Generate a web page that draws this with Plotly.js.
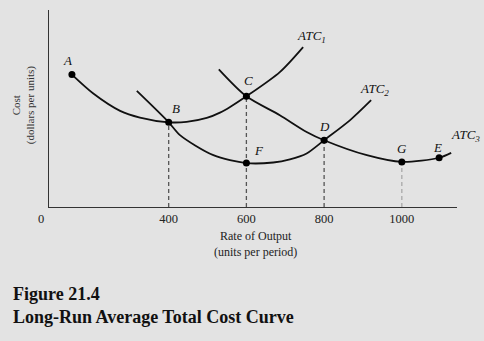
<!DOCTYPE html>
<html>
<head>
<meta charset="utf-8">
<script src="https://cdn.plot.ly/plotly-3.0.1.min.js"></script>
<style>
  html, body { margin: 0; padding: 0; background: #e3e3e3; }
  #chart { width: 484px; height: 341px; }
</style>
</head>
<body>
<div id="chart"></div>
<script>
// Schematic data (cost in arbitrary units, output in units per period)
const atc1X = [151, 206, 275, 326, 400, 446, 498, 532, 558, 600, 686, 746];
const atc1Y = [67.2, 57.6, 48.8, 45.4, 43.0, 43.2, 45.2, 47.9, 50.8, 56.2, 68.5, 81.2];

const atc2X = [318, 400, 429, 515, 600, 669, 712, 755, 800, 867, 921];
const atc2Y = [58.9, 43.0, 36.5, 26.3, 22.3, 22.6, 24.2, 27.2, 33.9, 44.1, 54.2];

const atc3X = [529, 600, 686, 755, 800, 910, 1000, 1096, 1127];
const atc3Y = [69.9, 56.2, 46.6, 38.1, 33.9, 26.3, 22.9, 25.0, 27.5];

const pointNames = ['A', 'B', 'C', 'D', 'F', 'G', 'E'];
const pointX = [151, 400, 600, 800, 600, 1000, 1096];
const pointY = [67.2, 43.0, 56.2, 33.9, 22.3, 22.9, 25.0];

const dashedNames = ['B', 'C', 'D', 'G'];
const tickValues = [400, 600, 800, 1000];
const tickLabels = ['400', '600', '800', '1000'];
const curveNames = ['ATC<sub>1</sub>', 'ATC<sub>2</sub>', 'ATC<sub>3</sub>'];

const serif = 'Liberation Serif, Times New Roman, serif';
const lineStyle = {color: '#111', width: 1.8, shape: 'spline', smoothing: 0.8};

const traces = [
  {x: atc1X, y: atc1Y, mode: 'lines', line: lineStyle, hoverinfo: 'skip'},
  {x: atc2X, y: atc2Y, mode: 'lines', line: lineStyle, hoverinfo: 'skip'},
  {x: atc3X, y: atc3Y, mode: 'lines', line: lineStyle, hoverinfo: 'skip'},
  {x: pointX, y: pointY, mode: 'markers', marker: {color: '#000', size: 7}, hoverinfo: 'skip'}
];

// dashed drop lines
const shapes = dashedNames.map(n => {
  const i = pointNames.indexOf(n);
  return {
    type: 'line', xref: 'x', yref: 'y',
    x0: pointX[i], x1: pointX[i], y0: 0, y1: pointY[i],
    line: {color: n === 'G' ? '#a8a8a8' : '#555', width: 1.3, dash: '4px,3px'},
    layer: 'below'
  };
});

const labelShift = {A: [-4, 14], B: [7, 14], C: [2, 16], D: [0, 14], F: [13, 13], G: [0, 13], E: [-2, 10]};
const annotations = pointNames.map((n, i) => ({
  x: pointX[i], y: pointY[i], xref: 'x', yref: 'y', text: '<i>' + n + '</i>',
  showarrow: false, xshift: labelShift[n][0], yshift: labelShift[n][1],
  font: {family: serif, size: 13, color: '#111'}
}));

const curveEnds = [[atc1X, atc1Y], [atc2X, atc2Y], [atc3X, atc3Y]];
const curveShift = [[8, 11], [3, 11], [14, 17]];
curveEnds.forEach((c, k) => {
  const j = c[0].length - 1;
  annotations.push({
    x: c[0][j], y: c[1][j], xref: 'x', yref: 'y', text: '<i>' + curveNames[k] + '</i>',
    showarrow: false, xshift: curveShift[k][0], yshift: curveShift[k][1],
    font: {family: serif, size: 13, color: '#111'}
  });
});

annotations.push(
  {xref: 'paper', yref: 'paper', x: 0, y: 0, xanchor: 'right', yanchor: 'top', xshift: -3, yshift: -3,
   text: '0', showarrow: false, font: {family: serif, size: 12.5, color: '#222'}},
  {xref: 'paper', yref: 'paper', x: 0.507, y: 0, xanchor: 'center', yanchor: 'top', yshift: -20,
   text: 'Rate of Output<br>(units per period)', showarrow: false,
   font: {family: serif, size: 12, color: '#222'}},
  {xref: 'paper', yref: 'paper', x: -0.062, y: 0.52, xanchor: 'center', yanchor: 'middle', textangle: -90,
   text: 'Cost<br>(dollars per units)', showarrow: false,
   font: {family: serif, size: 11, color: '#333'}},
  {xref: 'paper', yref: 'paper', x: -0.093, y: -0.442, xanchor: 'left', yanchor: 'middle',
   text: '<b>Figure 21.4</b>', showarrow: false, font: {family: serif, size: 18, color: '#111'}},
  {xref: 'paper', yref: 'paper', x: -0.093, y: -0.558, xanchor: 'left', yanchor: 'middle',
   text: '<b>Long-Run Average Total Cost Curve</b>', showarrow: false,
   font: {family: serif, size: 18, color: '#111'}}
);

const layout = {
  width: 484, height: 341,
  margin: {l: 49, r: 27, t: 10, b: 134},
  paper_bgcolor: '#e3e3e3', plot_bgcolor: '#e3e3e3',
  showlegend: false,
  xaxis: {
    range: [92, 1142], showgrid: false, zeroline: false,
    showline: true, linecolor: '#333', linewidth: 1.2,
    tickmode: 'array', tickvals: tickValues, ticktext: tickLabels,
    ticks: '', ticklen: 0, tickfont: {family: serif, size: 12.5, color: '#222'}
  },
  yaxis: {
    range: [0, 100], showgrid: false, zeroline: false,
    showline: true, linecolor: '#333', linewidth: 1.2,
    showticklabels: false, ticks: ''
  },
  shapes: shapes,
  annotations: annotations
};

Plotly.newPlot('chart', traces, layout, {staticPlot: true, displayModeBar: false});
</script>
</body>
</html>
